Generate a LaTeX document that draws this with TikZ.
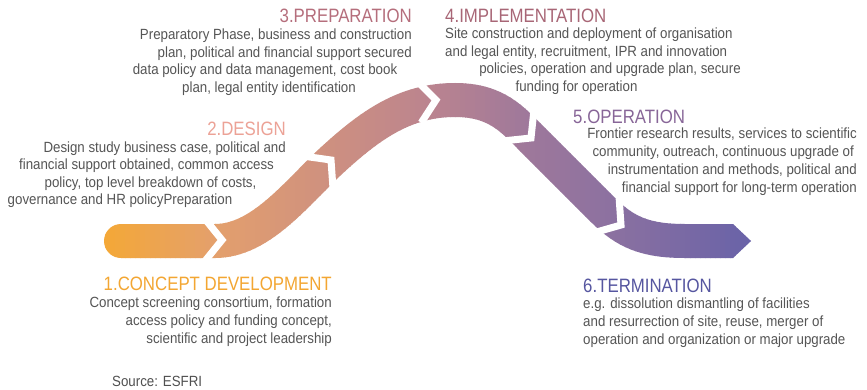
\documentclass[tikz,border=0pt]{standalone}
\usepackage{fontspec}
\newfontfamily\bodyf[FakeStretch=0.9]{Liberation Sans}
\newfontfamily\titlef[FakeStretch=0.87]{Liberation Sans}
\definecolor{c0}{RGB}{245,168,52}
\definecolor{c1}{RGB}{228,160,108}
\definecolor{c2}{RGB}{206,144,128}
\definecolor{c3}{RGB}{187,132,143}
\definecolor{c4}{RGB}{158,120,155}
\definecolor{c5}{RGB}{140,113,160}
\definecolor{c6}{RGB}{104,98,168}
\definecolor{tone1}{RGB}{243,166,50}
\definecolor{tone2}{RGB}{236,162,150}
\definecolor{tone3}{RGB}{181,110,124}
\definecolor{tone4}{RGB}{168,102,118}
\definecolor{tone5}{RGB}{136,102,152}
\definecolor{tone6}{RGB}{86,86,160}
\definecolor{txt}{RGB}{85,85,85}
\definecolor{srctxt}{RGB}{80,80,80}
\newcommand\ribbonpiece[1]{%
  \draw[line width=1.02cm,color=#1] (121,241) -- (215,241)
     .. controls (260,241) and (295,195) .. (330,162)
     .. controls (370,125) and (405,100) .. (455,100)
     .. controls (497,100) and (513,120) .. (533,140)
     -- (603,210)
     .. controls (625,232) and (645,241) .. (685,241) -- (733,241);
  \fill[#1] (121,241) circle[radius=0.51cm];
  \fill[#1] (733,224) -- (751,241) -- (733,258) -- cycle;
}
\newcommand\bandpart[5]{%
  \foreach \k in {1,...,#5}{%
    \pgfmathsetmacro\xa{#1+(#2-#1)*(\k-1)/#5}%
    \pgfmathsetmacro\xb{#1+(#2-#1)*\k/#5+0.7}%
    \pgfmathtruncatemacro\pc{100-100*(\k-0.5)/#5}%
    \begin{scope}
      \clip (\xa,60) rectangle (\xb,285);
      \ribbonpiece{#3!\pc!#4}
    \end{scope}
  }%
}
\newcommand\gapmark[3]{\draw[gapline,shift={(#1,#2)},rotate=#3] (-17,-21) -- (0,0) -- (-17,21);}
\begin{document}
\begin{tikzpicture}[x=0.03cm,y=-0.03cm,
  gapline/.style={draw=white,line width=0.21cm,line join=miter,miter limit=10},
  body/.style={font=\bodyf\fontsize{12.6}{15}\selectfont,text=txt,inner sep=0pt},
  ttl/.style={font=\titlef\fontsize{16.5}{19}\selectfont,inner sep=0pt}]
\useasboundingbox (0,0) rectangle (867,389);
\fill[white] (0,0) rectangle (867,389);
% ribbon with horizontal gradient
\bandpart{100}{215}{c0}{c1}{23}
\bandpart{215}{330}{c1}{c2}{23}
\bandpart{330}{430}{c2}{c3}{20}
\bandpart{430}{530}{c3}{c4}{20}
\bandpart{530}{610}{c4}{c5}{16}
\bandpart{610}{755}{c5}{c6}{29}
% chevron gaps
\gapmark{222}{240}{0}
\gapmark{331}{160}{43}
\gapmark{436}{100}{6}
\gapmark{531}{138}{-45}
\gapmark{621}{225}{-35}
% 1 concept
\node[ttl,text=tone1,anchor=base east] (t1) at (332,290) {1.CONCEPT DEVELOPMENT};
\node[body,anchor=base east] (b1a) at (332,307) {Concept screening consortium, formation};
\node[body,anchor=base east] (b1b) at (332,325) {access policy and funding concept,};
\node[body,anchor=base east] (b1c) at (332,343) {scientific and project leadership};
% 2 design
\node[ttl,text=tone2,anchor=base east] (t2) at (286,135) {2.DESIGN};
\node[body,anchor=base east] (b2a) at (286,152) {Design study business case, political and};
\node[body,anchor=base] (b2b) at (146.5,169) {financial support obtained, common access};
\node[body,anchor=base] (b2c) at (150.5,187) {policy, top level breakdown of costs,};
\node[body,anchor=base] (b2d) at (120,204) {governance and HR policyPreparation};
% 3 preparation
\node[ttl,text=tone3,anchor=base east] (t3) at (412,22) {3.PREPARATION};
\node[body,anchor=base east] (b3a) at (412,39) {Preparatory Phase, business and construction};
\node[body,anchor=base east] (b3b) at (412,57) {plan, political and financial support secured};
\node[body,anchor=base] (b3c) at (265,74) {data policy and data management, cost book};
\node[body,anchor=base] (b3d) at (269,92) {plan, legal entity identification};
% 4 implementation
\node[ttl,text=tone4,anchor=base west] (t4) at (445,22) {4.IMPLEMENTATION};
\node[body,anchor=base west] (b4a) at (445,38) {Site construction and deployment of organisation};
\node[body,anchor=base west] (b4b) at (445,56) {and legal entity, recruitment, IPR and innovation};
\node[body,anchor=base] (b4c) at (610,73) {policies, operation and upgrade plan, secure};
\node[body,anchor=base] (b4d) at (576.5,91) {funding for operation};
% 5 operation
\node[ttl,text=tone5,anchor=base west] (t5) at (573,123) {5.OPERATION};
\node[body,anchor=base east] (b5a) at (857,138) {Frontier research results, services to scientific};
\node[body,anchor=base east] (b5b) at (854,156) {community, outreach, continuous upgrade of};
\node[body,anchor=base east] (b5c) at (857,174) {instrumentation and methods, political and};
\node[body,anchor=base east] (b5d) at (857,192) {financial support for long-term operation};
% 6 termination
\node[ttl,text=tone6,anchor=base west] (t6) at (583,292) {6.TERMINATION};
\node[body,anchor=base west] (b6a) at (583,308) {e.g. dissolution dismantling of facilities};
\node[body,anchor=base west] (b6b) at (583,326) {and resurrection of site, reuse, merger of};
\node[body,anchor=base west] (b6c) at (583,344) {operation and organization or major upgrade};
% source
\node[body,text=srctxt,anchor=base west] (src) at (112,386) {Source: ESFRI};
\end{tikzpicture}
\end{document}
